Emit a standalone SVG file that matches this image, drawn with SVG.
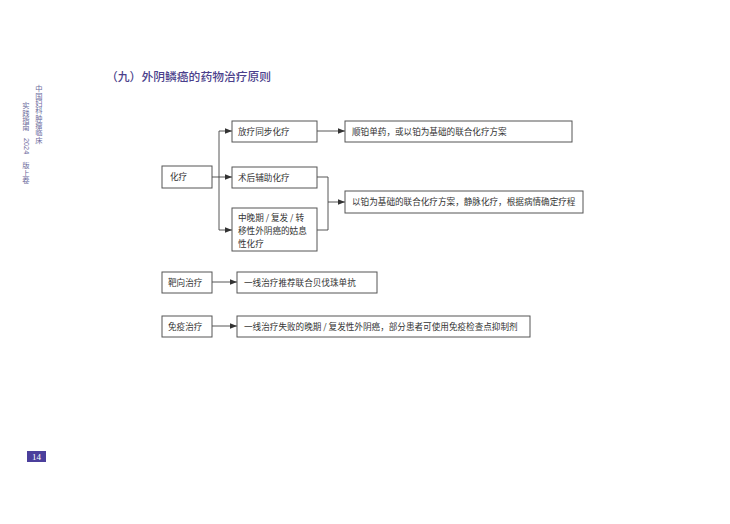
<svg xmlns="http://www.w3.org/2000/svg" width="730" height="524" viewBox="0 0 730 524">
<defs>
<marker id="arr" viewBox="0 0 10 10" refX="10" refY="5" markerWidth="7" markerHeight="7" orient="auto" markerUnits="userSpaceOnUse">
<path d="M0,1 L10,5 L0,9 Z" fill="#333"/>
</marker>
<style>
.box{fill:#fff;stroke:#555;stroke-width:1}
.t{font-family:"Noto Sans CJK SC","Liberation Sans",sans-serif;font-size:8.6px;fill:#333}
.c{fill:none;stroke:#444;stroke-width:0.9}
.side{font-family:"Noto Sans CJK SC",sans-serif;font-size:7.3px;fill:#6b6a9c;writing-mode:vertical-rl;text-orientation:upright}
</style>
</defs>
<rect width="730" height="524" fill="#fff"/>
<text x="106" y="81" font-family="Noto Sans CJK SC, Liberation Sans, sans-serif" font-size="11.8" font-weight="500" fill="#4b3f8c">（九）外阴鳞癌的药物治疗原则</text>
<g id="sidebar">
<text class="side" x="39" y="85">中国妇科肿瘤临床</text>
<text class="side" x="26" y="102">实践指南</text>
<text class="side" x="26" y="162">版上卷</text>
<text transform="translate(23.5,138) rotate(90)" font-family="Liberation Sans, sans-serif" font-size="7.3" fill="#6b6a9c">2024</text>
</g>
<g id="page"><rect x="27" y="451" width="19" height="11" fill="#4b3f9c"/><text x="36.5" y="460" text-anchor="middle" font-family="Liberation Serif, serif" font-size="9" fill="#fff">14</text></g>
<g id="connectors">
<path class="c" d="M212,177 H219"/>
<path class="c" d="M219,131 V230"/>
<path class="c" d="M219,131 H232" marker-end="url(#arr)"/>
<path class="c" d="M219,177 H232" marker-end="url(#arr)"/>
<path class="c" d="M219,230 H232" marker-end="url(#arr)"/>
<path class="c" d="M317,131 H345" marker-end="url(#arr)"/>
<path class="c" d="M317,177 H328 V230 H317"/>
<path class="c" d="M328,202 H345" marker-end="url(#arr)"/>
<path class="c" d="M212,282 H237" marker-end="url(#arr)"/>
<path class="c" d="M212,326 H237" marker-end="url(#arr)"/>
</g>
<g id="n_chemo"><rect class="box" x="162" y="166" width="50" height="22"/><text class="t" x="170" y="180">化疗</text></g>
<g id="n_rt"><rect class="box" x="232" y="121" width="85" height="21"/><text class="t" x="238" y="135">放疗同步化疗</text></g>
<g id="n_adj"><rect class="box" x="232" y="167" width="85" height="21"/><text class="t" x="238" y="181">术后辅助化疗</text></g>
<g id="n_pal"><rect class="box" x="232" y="208" width="85" height="43"/><text class="t" x="238" y="221">中晚期 / 复发 / 转</text><text class="t" x="238" y="234">移性外阴癌的姑息</text><text class="t" x="238" y="247">性化疗</text></g>
<g id="n_cis"><rect class="box" x="345" y="121" width="227" height="21"/><text class="t" x="352" y="135">顺铂单药，或以铂为基础的联合化疗方案</text></g>
<g id="n_pt"><rect class="box" x="345" y="191" width="238" height="22"/><text class="t" x="352" y="205">以铂为基础的联合化疗方案，静脉化疗，根据病情确定疗程</text></g>
<g id="n_target"><rect class="box" x="162" y="272" width="50" height="21"/><text class="t" x="168" y="286">靶向治疗</text></g>
<g id="n_bev"><rect class="box" x="237" y="272" width="140" height="21"/><text class="t" x="244" y="286">一线治疗推荐联合贝伐珠单抗</text></g>
<g id="n_immuno"><rect class="box" x="162" y="316" width="50" height="21"/><text class="t" x="168" y="330">免疫治疗</text></g>
<g id="n_ici"><rect class="box" x="237" y="316" width="293" height="21"/><text class="t" x="244" y="330">一线治疗失败的晚期 / 复发性外阴癌，部分患者可使用免疫检查点抑制剂</text></g>
</svg>
